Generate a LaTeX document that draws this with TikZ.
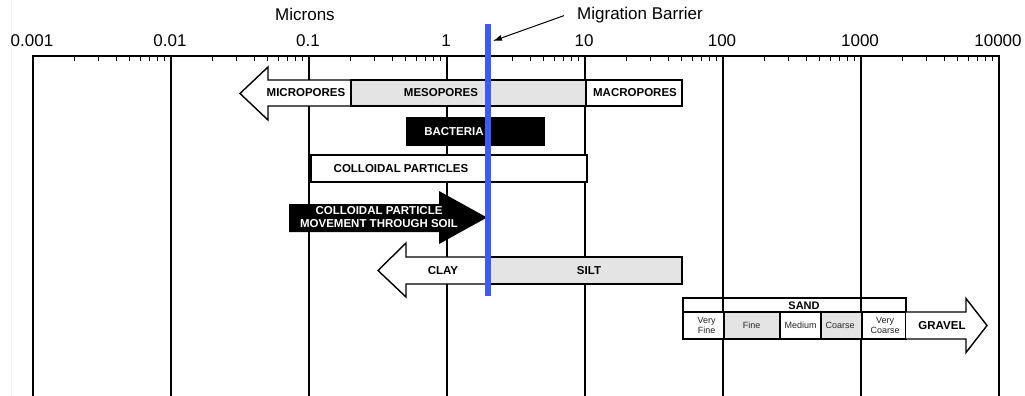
\documentclass[tikz,border=0pt]{standalone}
\usepackage{fontspec}
\setmainfont{Liberation Sans}
\usetikzlibrary{arrows.meta}
\definecolor{barrier}{RGB}{60,90,250}
\definecolor{lgray}{RGB}{228,228,228}
\begin{document}
\begin{tikzpicture}[x=1pt,y=-1pt,
  gridline/.style={line width=1.1pt},
  axlab/.style={font=\fontsize{17}{20}\selectfont, inner sep=0pt, anchor=base},
  blab/.style={font=\fontsize{11.5}{13}\selectfont\bfseries, inner sep=0pt, align=center},
  wlab/.style={blab, text=white},
  slab/.style={font=\fontsize{9}{9.5}\selectfont, inner sep=0pt, align=center, text=black!85},
  outl/.style={draw, line width=1.4pt, line join=miter},
]
\useasboundingbox (0,0) rectangle (1025,396);
\draw[black!5, line width=0.8pt] (11,0) -- (11,396);
% grid lines
\foreach \d in {0,...,7} { \draw[gridline] ({33+138*\d},56) -- ({33+138*\d},396); }
% minor ticks
\foreach \d in {0,...,6} { \foreach \k in {2,...,9} {
  \draw[line width=1.1pt] ({33+138*(\d+log10(\k))},56) -- ++(0,5); } }
% axis
\draw[line width=1.4pt] (32.3,56) -- (999.7,56);
% axis labels
\foreach \d/\lab in {0/0.001,1/0.01,2/0.1,3/1,4/10,5/100,6/1000,7/10000}
  { \node[axlab] (lab\d) at ({32+138*\d},47) {\lab}; }
\node[axlab] (microns) at (305,21) {Microns};
\node[axlab, anchor=base west] (mb) at (577,20) {Migration Barrier};
\coordinate (mbtip) at (493,41);
\draw[line width=1pt, -{Latex[length=9pt,width=6pt]}] ([xshift=-13pt]mb.west) -- (mbtip);

% pores
\draw[outl, fill=white] (351,80) -- (268,80) -- (268,67) -- (240,93.5) -- (268,120) -- (268,106) -- (351,106) -- cycle;
\draw[outl, fill=lgray] (351,80) rectangle (586,106);
\draw[outl, fill=white] (586,80) rectangle (682,106);
\node[blab] (micro) at (306,93) {MICROPORES};
\node[blab] (meso) at (441,93) {MESOPORES};
\node[blab] (macro) at (635,93) {MACROPORES};

% bacteria
\draw[fill=black] (406,117) rectangle (544,145);
\node[wlab] (bact) at (454,131.5) {BACTERIA};

% colloidal particles
\draw[outl, fill=white] (311,155) rectangle (587,182);
\node[blab] (coll) at (401,168.5) {COLLOIDAL PARTICLES};

% movement arrow
\fill (289,204) -- (439,204) -- (439,191) -- (487,217.5) -- (439,244) -- (439,232) -- (289,232) -- cycle;
\node[wlab] (move) at (379,217.5) {COLLOIDAL PARTICLE\\MOVEMENT THROUGH SOIL};

% clay / silt
\draw[outl, fill=white] (487,257) -- (406,257) -- (406,243) -- (378,270.5) -- (406,297) -- (406,284) -- (487,284);
\draw[outl, fill=lgray] (487,257) rectangle (682,284);
\node[blab] (clay) at (443,270.5) {CLAY};
\node[blab] (silt) at (589,270.5) {SILT};

% sand
\draw[outl, fill=white] (683,312) rectangle (724,339);
\draw[outl, fill=lgray] (724,312) rectangle (780,339);
\draw[outl, fill=white] (780,312) rectangle (821,339);
\draw[outl, fill=lgray] (821,312) rectangle (862,339);
\draw[outl, fill=white] (862,312) rectangle (906,339);
\draw[outl] (683,298) rectangle (906,312);
\node[blab, font=\fontsize{11}{12}\selectfont\bfseries] (sand) at (804,305.5) {SAND};
\node[slab] (vfine) at (706.5,325.5) {Very\\Fine};
\node[slab] (fine) at (751.5,325.5) {Fine};
\node[slab] (medium) at (800.5,325.5) {Medium};
\node[slab] (coarse) at (840,325.5) {Coarse};
\node[slab] (vcoarse) at (885,325.5) {Very\\Coarse};
\draw[outl, fill=white] (906,312) -- (966,312) -- (966,298.5) -- (987,325.5) -- (966,352.5) -- (966,339) -- (906,339);
\node[blab] (gravel) at (942,325.5) {GRAVEL};

% migration barrier
\draw[barrier, line width=6pt] (488,24) -- (488,296);
\end{tikzpicture}
\end{document}
